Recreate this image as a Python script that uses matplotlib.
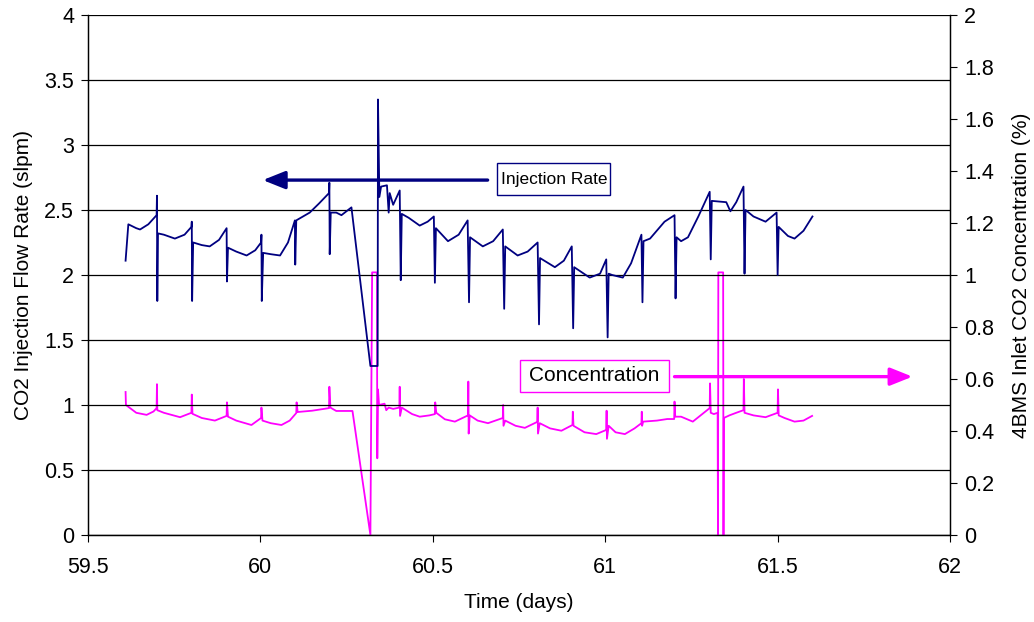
import matplotlib
matplotlib.use("Agg")
import matplotlib.pyplot as plt
from matplotlib.patches import Rectangle

plt.rcParams["font.family"] = ["Liberation Sans", "DejaVu Sans"]
plt.rcParams["font.size"] = 10

# CO2 injection flow rate (slpm) vs time (days)
rate_t = [
    59.609, 59.617, 59.640, 59.651, 59.675, 59.699, 59.700, 59.701, 59.703,
    59.720, 59.752, 59.780, 59.800, 59.801, 59.802, 59.805,
    59.830, 59.853, 59.880, 59.902, 59.903, 59.906,
    59.930, 59.960, 59.985, 60.002, 60.003, 60.004, 60.008,
    60.030, 60.057, 60.080, 60.100, 60.101, 60.104,
    60.143, 60.170, 60.199, 60.200, 60.201, 60.204,
    60.220, 60.235, 60.264, 60.319, 60.340, 60.341, 60.345,
    60.350, 60.367, 60.372, 60.375, 60.385, 60.404, 60.407, 60.410,
    60.430, 60.462, 60.485, 60.503, 60.506, 60.509,
    60.544, 60.575, 60.601, 60.605, 60.608,
    60.645, 60.675, 60.703, 60.707, 60.710,
    60.746, 60.775, 60.804, 60.808, 60.811,
    60.854, 60.880, 60.903, 60.907, 60.910,
    60.955, 60.985, 61.003, 61.007, 61.010, 61.020,
    61.051, 61.075, 61.105, 61.108, 61.111,
    61.130, 61.172, 61.201, 61.204, 61.207,
    61.220, 61.240, 61.270, 61.303, 61.306, 61.309,
    61.351, 61.363, 61.380, 61.401, 61.404, 61.407,
    61.430, 61.465, 61.497, 61.500, 61.503,
    61.530, 61.549, 61.575, 61.601,
]
rate = [
    2.11, 2.39, 2.36, 2.35, 2.39, 2.46, 2.61, 1.80, 2.32,
    2.31, 2.28, 2.31, 2.37, 2.41, 1.80, 2.25,
    2.23, 2.22, 2.27, 2.36, 1.95, 2.21,
    2.18, 2.15, 2.19, 2.25, 2.31, 1.80, 2.17,
    2.16, 2.15, 2.25, 2.42, 2.08, 2.42,
    2.48, 2.55, 2.63, 2.71, 2.16, 2.48,
    2.48, 2.46, 2.52, 1.30, 1.30, 3.35, 2.60,
    2.68, 2.69, 2.48, 2.63, 2.54, 2.65, 1.96, 2.47,
    2.44, 2.38, 2.41, 2.45, 1.94, 2.36,
    2.26, 2.31, 2.42, 1.79, 2.29,
    2.22, 2.26, 2.35, 1.74, 2.22,
    2.15, 2.18, 2.25, 1.62, 2.13,
    2.06, 2.11, 2.22, 1.59, 2.06,
    1.98, 2.01, 2.12, 1.52, 2.01, 2.00,
    1.98, 2.09, 2.31, 1.79, 2.26,
    2.28, 2.41, 2.46, 1.82, 2.29,
    2.26, 2.29, 2.45, 2.64, 2.12, 2.57,
    2.56, 2.49, 2.56, 2.68, 2.01, 2.50,
    2.45, 2.41, 2.48, 2.00, 2.37,
    2.30, 2.28, 2.34, 2.45,
]

# 4BMS inlet CO2 concentration (%) vs time (days)
conc_t = [
    59.609, 59.610, 59.640, 59.670, 59.690, 59.699, 59.700, 59.701,
    59.720, 59.767, 59.800, 59.801, 59.803,
    59.830, 59.868, 59.902, 59.903, 59.906,
    59.930, 59.974, 60.002, 60.003, 60.006,
    60.030, 60.061, 60.085, 60.104, 60.105, 60.108,
    60.150, 60.199, 60.200, 60.203, 60.220, 60.267,
    60.319, 60.324, 60.338, 60.339, 60.341, 60.344,
    60.360, 60.365, 60.372, 60.385, 60.403, 60.404, 60.405,
    60.410, 60.440, 60.462, 60.490, 60.506, 60.507, 60.510,
    60.535, 60.564, 60.602, 60.603, 60.604, 60.607,
    60.630, 60.660, 60.703, 60.704, 60.705, 60.710,
    60.740, 60.767, 60.803, 60.804, 60.805, 60.810,
    60.840, 60.873, 60.905, 60.906, 60.908,
    60.940, 60.974, 61.003, 61.004, 61.005, 61.010,
    61.030, 61.057, 61.085, 61.105, 61.106, 61.107, 61.110,
    61.150, 61.180, 61.200, 61.201, 61.203,
    61.220, 61.254, 61.303, 61.304, 61.306, 61.315,
    61.326, 61.327, 61.328, 61.342, 61.343, 61.344,
    61.360, 61.380, 61.401, 61.402, 61.404,
    61.430, 61.465, 61.500, 61.501, 61.503,
    61.520, 61.549, 61.575, 61.600,
]
conc = [
    0.55, 0.50, 0.47, 0.462, 0.475, 0.488, 0.58, 0.48,
    0.47, 0.453, 0.47, 0.54, 0.466,
    0.45, 0.44, 0.458, 0.51, 0.455,
    0.44, 0.423, 0.45, 0.49, 0.44,
    0.43, 0.423, 0.44, 0.469, 0.51, 0.473,
    0.478, 0.488, 0.57, 0.49, 0.477, 0.477,
    0.00, 1.01, 1.01, 0.295, 0.56, 0.50,
    0.505, 0.48, 0.49, 0.485, 0.49, 0.57, 0.458,
    0.49, 0.465, 0.455, 0.46, 0.465, 0.51, 0.47,
    0.445, 0.436, 0.46, 0.59, 0.39, 0.46,
    0.44, 0.43, 0.45, 0.50, 0.42, 0.44,
    0.42, 0.412, 0.435, 0.49, 0.39, 0.43,
    0.41, 0.401, 0.423, 0.474, 0.42,
    0.395, 0.388, 0.404, 0.478, 0.37, 0.42,
    0.395, 0.388, 0.41, 0.43, 0.474, 0.42, 0.436,
    0.44, 0.446, 0.446, 0.513, 0.455,
    0.455, 0.436, 0.488, 0.583, 0.47, 0.465,
    0.47, 0.00, 1.01, 1.01, 0.00, 0.45,
    0.46, 0.47, 0.48, 0.60, 0.47,
    0.46, 0.453, 0.47, 0.56, 0.46,
    0.45, 0.436, 0.44, 0.458,
]

x_ticks = [59.5, 60, 60.5, 61, 61.5, 62]
x_labels = ["59.5", "60", "60.5", "61", "61.5", "62"]
left_ticks = [0, 0.5, 1, 1.5, 2, 2.5, 3, 3.5, 4]
left_labels = ["0", "0.5", "1", "1.5", "2", "2.5", "3", "3.5", "4"]
right_ticks = [0, 0.2, 0.4, 0.6, 0.8, 1, 1.2, 1.4, 1.6, 1.8, 2]
right_labels = ["0", "0.2", "0.4", "0.6", "0.8", "1", "1.2", "1.4", "1.6", "1.8", "2"]

NAVY = "#000080"
MAGENTA = "#FF00FF"

fig = plt.figure(figsize=(10.34, 6.22), dpi=100)
ax = fig.add_axes([0.0851, 0.1399, 0.8337, 0.836])
ax2 = ax.twinx()

for y in left_ticks:
    ax.axhline(y, color="black", lw=0.9, zorder=0)

ax.plot(rate_t, rate, color=NAVY, lw=1.3, zorder=3)
ax2.plot(conc_t, conc, color=MAGENTA, lw=1.3, zorder=3)

ax.set_xlim(59.5, 62)
ax.set_ylim(0, 4)
ax2.set_ylim(0, 2)

ax.set_xticks(x_ticks)
ax.set_xticklabels(x_labels)
ax.set_yticks(left_ticks)
ax.set_yticklabels(left_labels)
ax2.set_yticks(right_ticks)
ax2.set_yticklabels(right_labels)

for a in (ax, ax2):
    a.tick_params(direction="out", length=5, width=0.8, labelsize=15.5, pad=5)
    a.spines["top"].set_visible(False)
    for s in a.spines.values():
        s.set_linewidth(0.9)
ax.tick_params(axis="x", pad=11)

ax.set_xlabel("Time (days)", fontsize=15, labelpad=11)
ax.set_ylabel("CO2 Injection Flow Rate (slpm)", fontsize=15, labelpad=8)
ax2.set_ylabel("4BMS Inlet CO2 Concentration (%)", fontsize=15, labelpad=13)

# callout arrows pointing to each series' axis
arrow_style = "-|>,head_length=0.45,head_width=0.18"
ax.annotate("", xy=(60.007, 2.73), xytext=(60.659, 2.73),
            arrowprops=dict(arrowstyle=arrow_style, color=NAVY, lw=2.4,
                            mutation_scale=30, shrinkA=0, shrinkB=0), zorder=4)
ax.add_patch(Rectangle((60.686, 2.615), 0.328, 0.247, fc="white", ec=NAVY,
                       lw=1.0, zorder=5))
ax.text(60.851, 2.738, "Injection Rate", fontsize=12.5, ha="center", va="center",
        zorder=6)

ax.annotate("", xy=(61.891, 1.218), xytext=(61.201, 1.218),
            arrowprops=dict(arrowstyle=arrow_style, color=MAGENTA, lw=2.4,
                            mutation_scale=30, shrinkA=0, shrinkB=0), zorder=4)
ax.add_patch(Rectangle((60.752, 1.10), 0.432, 0.246, fc="white", ec=MAGENTA,
                       lw=1.0, zorder=5))
ax.text(60.968, 1.223, "Concentration", fontsize=15, ha="center", va="center",
        zorder=6)

ax.set_zorder(ax2.get_zorder() + 1)
ax.patch.set_visible(False)

fig.savefig("out.png", dpi=100)
